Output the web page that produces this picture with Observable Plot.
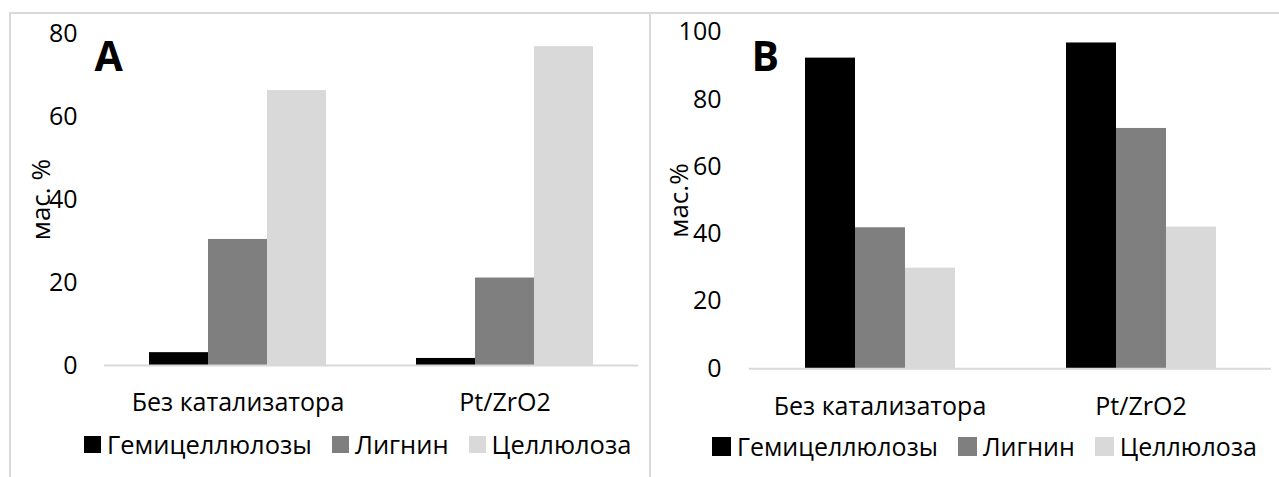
<!DOCTYPE html>
<html><head><meta charset="utf-8">
<script src="https://cdn.jsdelivr.net/npm/d3@7"></script>
<script src="https://cdn.jsdelivr.net/npm/@observablehq/plot@0.6"></script>
<style>
body{margin:0;background:#fff;font-family:"Open Sans",sans-serif;}
#root{position:relative;width:1279px;height:477px;overflow:hidden;background:#fff;}
#root svg{position:absolute;top:0;}
.line{position:absolute;background:#d9d9d9;z-index:2;}
.legend{position:absolute;display:flex;align-items:center;gap:20px;font-size:25.5px;color:#000;white-space:nowrap;height:30px;z-index:3;}
.legend .item{display:flex;align-items:center;}
.legend .sw{display:inline-block;margin-right:6px;}
</style></head><body><div id="root"></div>
<script>
// ---- data ----
const categories = ["Без катализатора", "Pt/ZrO2"];
const series = ["Гемицеллюлозы", "Лигнин", "Целлюлоза"];
const seriesColors = ["#000000", "#7f7f7f", "#d9d9d9"];
const panelA_hemicellulose = [3.1, 1.7];
const panelA_lignin = [30.4, 21.1];
const panelA_cellulose = [66.3, 76.9];
const panelB_hemicellulose = [92.3, 96.8];
const panelB_lignin = [41.9, 71.4];
const panelB_cellulose = [29.9, 42.1];
const ticksA = [0, 20, 40, 60, 80];
const ticksB = [0, 20, 40, 60, 80, 100];
const yLabelA = "мас. %";
const yLabelB = "мас.%";

function toRows(h, l, c) {
  const rows = [];
  categories.forEach((cat, i) => {
    [h, l, c].forEach((arr, j) => rows.push({category: cat, series: series[j], value: arr[i]}));
  });
  return rows;
}

function panel(o) {
  const svg = Plot.plot({
    width: o.width, height: o.height,
    marginLeft: o.ml, marginRight: o.mr, marginTop: o.mt, marginBottom: o.mb,
    style: {fontFamily: "'Open Sans', sans-serif", fontSize: "25px", color: "#000", background: "none", overflow: "visible"},
    fx: {domain: categories, padding: 0, label: null, axis: null},
    x: {domain: series, paddingInner: 0, paddingOuter: o.po, axis: null},
    y: {domain: [0, o.ymax], axis: null},
    color: {domain: series, range: seriesColors},
    marks: [
      Plot.barY(o.data, {fx: "category", x: "series", y: "value", fill: "series"}),
      Plot.ruleY([0], {stroke: "#d9d9d9", strokeWidth: 2}),
      Plot.axisY({ticks: o.ticks, tickSize: 0, tickPadding: o.tp, fontSize: 25, label: null}),
      Plot.axisFx({anchor: "bottom", tickSize: 0, tickPadding: 28, fontSize: 25, label: null}),
      Plot.text([o.ylabel], {fx: () => categories[0], text: d => d, frameAnchor: "left", textAnchor: "middle", dx: o.ldx, rotate: -90, fontSize: 26}),
      Plot.text([o.letter], {fx: () => categories[0], text: d => d, frameAnchor: "top-left", textAnchor: "start", lineAnchor: "middle", dx: o.adx, dy: o.ady, fontSize: 41, fontWeight: "bold"})
    ]
  });
  svg.style.left = o.left + "px";
  return svg;
}

const root = document.getElementById("root");
root.appendChild(panel({
  left: 0, width: 650, height: 425, ml: 103, mr: 12, mt: 33.3, mb: 60,
  po: 0.755, ymax: 80, ticks: ticksA, tp: 27,
  data: toRows(panelA_hemicellulose, panelA_lignin, panelA_cellulose),
  ylabel: yLabelA, ldx: -63, letter: "A", adx: -10, ady: 24
}));
root.appendChild(panel({
  left: 650, width: 629, height: 425, ml: 99, mr: 8, mt: 31.7, mb: 56.7,
  po: 1.095, ymax: 100, ticks: ticksB, tp: 28,
  data: toRows(panelB_hemicellulose, panelB_lignin, panelB_cellulose),
  ylabel: yLabelB, ldx: -70, letter: "B", adx: 2, ady: 26
}));

// panel borders
[[9, 12, 641, 2], [9, 12, 2, 465], [650, 12, 629, 2], [649, 12, 2, 465]].forEach(([l, t, w, h]) => {
  const d = document.createElement("div");
  d.className = "line";
  Object.assign(d.style, {left: l + "px", top: t + "px", width: w + "px", height: h + "px"});
  root.appendChild(d);
});

// legends
function legend(left, top, sw, fs) {
  const lg = document.createElement("div");
  lg.className = "legend";
  lg.style.left = left + "px";
  lg.style.top = top + "px";
  lg.style.fontSize = fs + "px";
  series.forEach((s, i) => {
    const it = document.createElement("div");
    it.className = "item";
    const box = document.createElement("span");
    box.className = "sw";
    Object.assign(box.style, {width: sw + "px", height: sw + "px", background: seriesColors[i]});
    const tx = document.createElement("span");
    tx.textContent = s;
    it.appendChild(box); it.appendChild(tx);
    lg.appendChild(it);
  });
  root.appendChild(lg);
}
legend(84, 429, 17, 25.5);
legend(712, 431, 19, 25);
</script></body></html>
